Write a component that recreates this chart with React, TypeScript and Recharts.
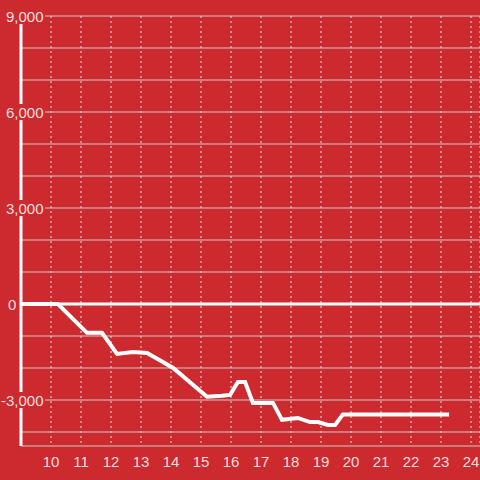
import React from "react";
import { LineChart, Line, XAxis, YAxis, CartesianGrid, ReferenceLine } from "recharts";

const days = [9, 10.23, 11.2, 11.7, 12.2, 12.73, 13.2, 13.73, 14.07, 15.2, 15.7, 15.97, 16.23, 16.47, 16.73, 17.4, 17.7, 18.23, 18.63, 18.9, 19.23, 19.47, 19.73, 23.27];
const values = [0, 0, -900, -900, -1560, -1500, -1530, -1810, -2000, -2900, -2870, -2840, -2440, -2440, -3090, -3090, -3620, -3560, -3690, -3690, -3780, -3780, -3450, -3450];
const xTicks = [10, 11, 12, 13, 14, 15, 16, 17, 18, 19, 20, 21, 22, 23, 24];
const yTicks = [-4000, -3000, -2000, -1000, 0, 1000, 2000, 3000, 4000, 5000, 6000, 7000, 8000, 9000];
const labelledY = [-3000, 0, 3000, 6000, 9000];

const data = days.map((d, i) => ({ day: d, value: values[i] }));

const BG = "#cd2a2f";
const TXT = "rgba(255,255,255,0.85)";
const FONT = "'Liberation Sans', Arial, sans-serif";

const YTick = (props: any) => {
  const { y, payload } = props;
  const v = payload.value;
  if (!labelledY.includes(v)) return null;
  const label = v.toLocaleString("en-US");
  if (v === 0) {
    return (
      <g>
        <rect x={6} y={y - 8} width={12} height={16} fill={BG} />
        <text x={8} y={y + 5.5} fontSize={15} fontFamily={FONT} fill={TXT} textAnchor="start">{label}</text>
      </g>
    );
  }
  return (
    <g>
      <rect x={0} y={y - 8} width={45} height={16} fill={BG} />
      <text x={43.5} y={y + 5.5} fontSize={15} fontFamily={FONT} fill={TXT} textAnchor="end">{label}</text>
    </g>
  );
};

const XTick = (props: any) => {
  const { x, payload } = props;
  return (
    <text x={x} y={466.5} fontSize={15} fontFamily={FONT} fill={TXT} textAnchor="middle">{payload.value}</text>
  );
};

export default function App() {
  return (
    <div style={{ position: "absolute", left: 0, top: 0, width: 480, height: 480, background: BG }}>
      <LineChart width={480} height={480} data={data} margin={{ top: 16, right: 0, bottom: 0, left: 0 }}>
        <CartesianGrid horizontal={true} vertical={false} stroke="#cccccc" strokeWidth={1} />
        <CartesianGrid horizontal={false} vertical={true} stroke="#e2e2e2" strokeWidth={1} strokeDasharray="2 3" />
        <XAxis dataKey="day" type="number" domain={[9, 24.3]} ticks={xTicks} allowDataOverflow height={34} axisLine={false} tickLine={false} tick={<XTick />} interval={0} />
        <YAxis type="number" domain={[-4437.5, 9000]} ticks={yTicks} allowDataOverflow width={21} axisLine={false} tickLine={false} tick={<YTick />} interval={0} />
        <ReferenceLine segment={[{ x: 9, y: 9000 }, { x: 9, y: -4437.5 }]} stroke="#ffffff" strokeWidth={3} />
        <ReferenceLine y={0} stroke="#ffffff" strokeWidth={3} />
        <Line type="linear" dataKey="value" stroke="#ffffff" strokeWidth={4} dot={false} activeDot={false} isAnimationActive={false} />
      </LineChart>
    </div>
  );
}
